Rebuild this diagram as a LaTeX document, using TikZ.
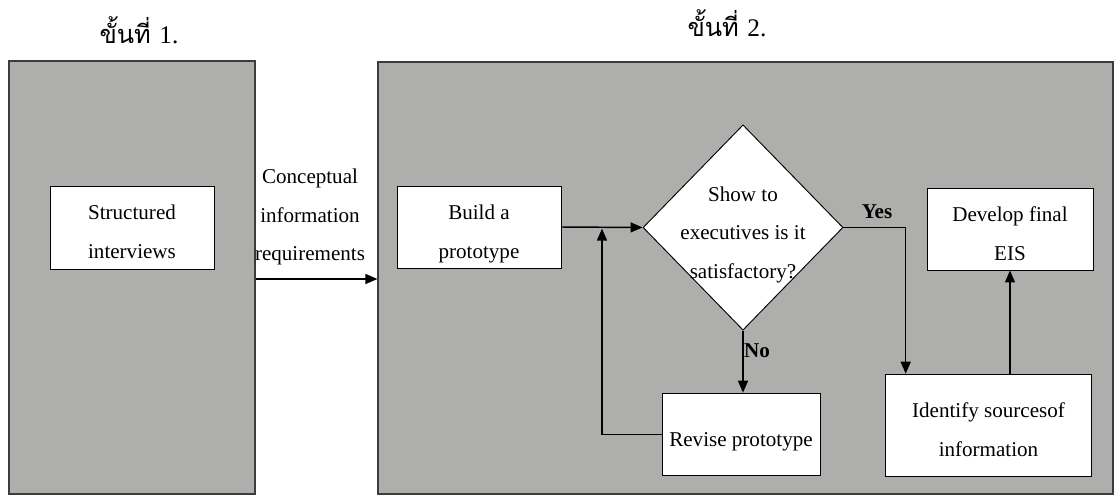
\documentclass[tikz,border=0pt]{standalone}
\usepackage{fontspec}
\setmainfont{Liberation Serif}
\newfontfamily\thaifont[Script=Thai]{Loma}
\usetikzlibrary{arrows.meta,shapes.geometric,calc}
\definecolor{panelgray}{RGB}{174,174,172}
\definecolor{panelline}{RGB}{60,60,60}
\begin{document}
\begin{tikzpicture}[x=0.75pt,y=-0.75pt,
  every node/.style={font=\fontsize{15.8}{29}\selectfont},
  panel/.style={draw=panelline,line width=0.9pt,fill=panelgray,inner sep=0pt},
  stepbox/.style={draw,line width=0.7pt,fill=white,align=center,inner sep=2pt,
    text depth=0pt,text height=46.5pt},
  onelinebox/.style={draw,line width=0.7pt,fill=white,inner sep=2pt,
    text depth=0pt,text height=17.5pt},
  arr/.style={line width=1.1pt,-{Triangle[length=9pt,width=7.5pt]}},
  title/.style={font=\fontsize{19}{22}\selectfont},
  tag/.style={font=\fontsize{15.8}{18}\bfseries\selectfont}]
\useasboundingbox (0,0) rectangle (1115,496);
\fill[white] (0,0) rectangle (1115,496);

% phase titles
\node[title] (t1) at (139,30) {\thaifont ขั้นที่ {\rmfamily 1.}};
\node[title] (t2) at (727,23) {\thaifont ขั้นที่ {\rmfamily 2.}};

% phase panels
\node[panel,minimum width=184.5pt,minimum height=324.75pt] (p1) at (132,277.5) {};
\node[panel,minimum width=551.25pt,minimum height=324pt] (p2) at (745.5,278) {};

% phase 1
\node[stepbox,minimum width=123pt,minimum height=62.25pt] (si) at (132,227.5) {Structured\\interviews};
\node[align=center] (cir) at (310,217) {Conceptual\\information\\requirements};

% phase 2
\node[stepbox,minimum width=123pt,minimum height=61.5pt] (build) at (479,227) {Build a\\prototype};
\node[draw,line width=0.7pt,fill=white,shape=diamond,aspect=1,inner sep=0pt,
      minimum width=150pt,minimum height=154pt] (dia) at (743,227.5) {};
\node[align=center] (diatext) at ([yshift=-5.5pt]dia.center) {Show to\\executives is it\\satisfactory?};
\node[stepbox,minimum width=124.5pt,minimum height=61.5pt] (dev) at (1010,229) {Develop final\\EIS};
\node[stepbox,minimum width=155pt,minimum height=77pt] (ident) at (988.5,425.5) {Identify sourcesof\\information};
\node[onelinebox,minimum width=118.5pt,minimum height=62pt] (rev) at (741,434.5) {Revise prototype};

% connectors
\draw[arr] (p1.east |- 0,279) -- (p2.west |- 0,279);
\draw[arr] (build.east) -- (dia.west);
\coordinate (loopend) at ($(build.east)!0.5!(dia.west)$);
\draw[arr,shorten >=1pt] (rev.west) -| (loopend);
\draw[arr] (dia.south) -- (rev.north -| dia.south);
\draw[arr] (dia.east) -| ([xshift=15.75pt]ident.north west);
\draw[arr] (ident.north -| dev.south) -- (dev.south);

% branch labels
\node[tag] (yes) at (877,212) {Yes};
\node[tag] (no) at (757,351) {No};
\end{tikzpicture}
\end{document}
